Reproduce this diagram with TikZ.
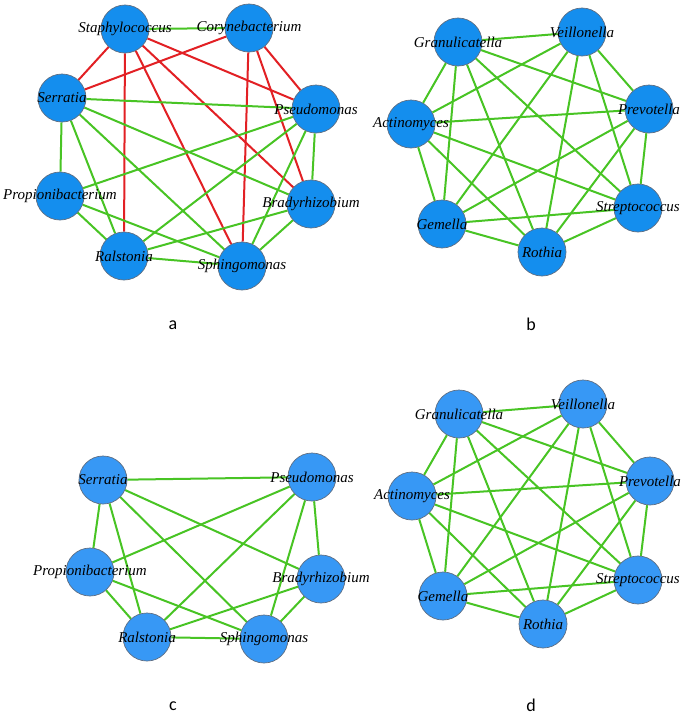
\documentclass[tikz,border=0pt]{standalone}
\usepackage{fontspec}
\setmainfont{Liberation Serif}
\newfontfamily\calib{Carlito}
\definecolor{blueA}{RGB}{20,142,238}
\definecolor{blueC}{RGB}{55,152,245}
\definecolor{nborder}{RGB}{95,110,130}
\definecolor{egreen}{RGB}{72,196,36}
\definecolor{ered}{RGB}{226,32,36}
\pgfdeclarelayer{background}
\pgfsetlayers{background,main}
\begin{document}
\begin{tikzpicture}[x=1pt,y=-1pt,
  nd/.style={circle, minimum size=48pt, inner sep=0pt, draw=nborder, line width=0.7pt, fill=#1},
  lab/.style={font=\fontsize{15}{15}\selectfont\itshape, inner sep=0pt},
  ge/.style={draw=egreen, line width=2pt},
  re/.style={draw=ered, line width=2pt},
  panlab/.style={font=\calib\fontsize{18}{18}\selectfont, inner sep=0pt}]
\useasboundingbox (0,0) rectangle (685,715);

% ---------- panel a ----------
\node[nd=blueA, label={[lab]center:Staphylococcus}] (aSt) at (125,29) {};
\node[nd=blueA, label={[lab]center:Corynebacterium}] (aCo) at (249,28) {};
\node[nd=blueA, label={[lab]center:Serratia}] (aSe) at (62,98) {};
\node[nd=blueA, label={[lab]center:Pseudomonas}] (aPs) at (316,109) {};
\node[nd=blueA, label={[lab]center:Propionibacterium}] (aPr) at (60,196) {};
\node[nd=blueA, label={[lab]center:Bradyrhizobium}] (aBr) at (311,204) {};
\node[nd=blueA, label={[lab]center:Ralstonia}] (aRa) at (124,256) {};
\node[nd=blueA, label={[lab]center:Sphingomonas}] (aSp) at (242,266) {};

% ---------- panel b ----------
\node[nd=blueA, label={[lab]center:Granulicatella}] (bGr) at (458,42) {};
\node[nd=blueA, label={[lab]center:Veillonella}] (bVe) at (582,32) {};
\node[nd=blueA, label={[lab]center:Actinomyces}] (bAc) at (411,124) {};
\node[nd=blueA, label={[lab]center:Prevotella}] (bPr) at (649,109) {};
\node[nd=blueA, label={[lab]center:Gemella}] (bGe) at (442,224) {};
\node[nd=blueA, label={[lab]center:Streptococcus}] (bSt) at (638,208) {};
\node[nd=blueA, label={[lab]center:Rothia}] (bRo) at (542,252) {};

% ---------- panel c ----------
\node[nd=blueC, label={[lab]center:Serratia}] (cSe) at (103,480) {};
\node[nd=blueC, label={[lab]center:Pseudomonas}] (cPs) at (312,477) {};
\node[nd=blueC, label={[lab]center:Propionibacterium}] (cPr) at (90,572) {};
\node[nd=blueC, label={[lab]center:Bradyrhizobium}] (cBr) at (321,579) {};
\node[nd=blueC, label={[lab]center:Ralstonia}] (cRa) at (147,637) {};
\node[nd=blueC, label={[lab]center:Sphingomonas}] (cSp) at (264,639) {};

% ---------- panel d ----------
\node[nd=blueC, label={[lab]center:Granulicatella}] (dGr) at (459,414) {};
\node[nd=blueC, label={[lab]center:Veillonella}] (dVe) at (583,404) {};
\node[nd=blueC, label={[lab]center:Actinomyces}] (dAc) at (412,496) {};
\node[nd=blueC, label={[lab]center:Prevotella}] (dPr) at (650,481) {};
\node[nd=blueC, label={[lab]center:Gemella}] (dGe) at (443,596) {};
\node[nd=blueC, label={[lab]center:Streptococcus}] (dSt) at (638,580) {};
\node[nd=blueC, label={[lab]center:Rothia}] (dRo) at (543,624) {};

% ---------- panel labels ----------
\node[panlab] (la) at (173,325) {a};
\node[panlab] (lb) at (531,324) {b};
\node[panlab] (lc) at (173,706) {c};
\node[panlab] (ld) at (531,705) {d};

\begin{pgfonlayer}{background}
\fill[white] (0,0) rectangle (685,715);
% panel a edges
\foreach \u/\v in {aSt/aSe, aSt/aRa, aSt/aSp, aSt/aBr, aSt/aPs, aCo/aSe, aCo/aSp, aCo/aBr, aCo/aPs}
  \draw[re] (\u) -- (\v);
\foreach \u/\v in {aSt/aCo, aSe/aPs, aSe/aPr, aSe/aRa, aSe/aSp, aSe/aBr, aPs/aPr, aPs/aRa, aPs/aBr, aPs/aSp, aPr/aRa, aPr/aSp, aBr/aRa, aBr/aSp, aRa/aSp}
  \draw[ge] (\u) -- (\v);
% panel c edges
\foreach \u/\v in {cSe/cPs, cSe/cPr, cSe/cRa, cSe/cSp, cSe/cBr, cPs/cPr, cPs/cRa, cPs/cBr, cPs/cSp, cPr/cRa, cPr/cSp, cBr/cRa, cBr/cSp, cRa/cSp}
  \draw[ge] (\u) -- (\v);
% panels b and d edges (complete graphs)
\foreach \p in {b,d}{
  \foreach \u/\v in {Gr/Ve, Gr/Ac, Gr/Pr, Gr/Ge, Gr/St, Gr/Ro, Ve/Ac, Ve/Pr, Ve/Ge, Ve/St, Ve/Ro, Ac/Pr, Ac/Ge, Ac/St, Ac/Ro, Pr/Ge, Pr/St, Pr/Ro, Ge/St, Ge/Ro, St/Ro}
    \draw[ge] (\p\u) -- (\p\v);
}
\end{pgfonlayer}
\end{tikzpicture}
\end{document}
